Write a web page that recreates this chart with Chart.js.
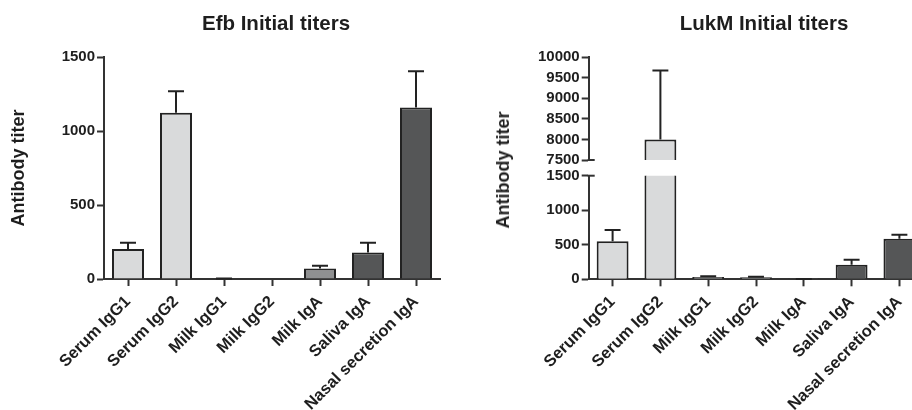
<!DOCTYPE html>
<html>
<head>
<meta charset="utf-8">
<script src="https://cdn.jsdelivr.net/npm/chart.js@4.4.1/dist/chart.umd.min.js"></script>
<style>
  html, body { margin: 0; padding: 0; background: #fff; }
  body { width: 912px; height: 410px; position: relative; overflow: hidden;
         font-family: "Liberation Sans", Arial, sans-serif; color: #1e1e1e; }
  canvas { position: absolute; }
  .title { position: absolute; width: 300px; text-align: center; font-weight: bold;
           font-size: 20.5px; line-height: 20.5px; white-space: nowrap; z-index: 2; }
  .ytitle { position: absolute; font-weight: bold; font-size: 18px; line-height: 20px;
            white-space: nowrap; z-index: 2; transform: translate(-50%, -50%) rotate(-90deg); }
</style>
</head>
<body>
<canvas id="efb" width="456" height="410" style="left:0;top:0"></canvas>
<canvas id="lukmTop" width="480" height="175" style="left:456px;top:0"></canvas>
<canvas id="lukmBottom" width="480" height="250" style="left:456px;top:160px"></canvas>
<div class="title" style="left:126px;top:13px">Efb Initial titers</div>
<div class="title" style="left:614px;top:13px">LukM Initial titers</div>
<div class="ytitle" style="left:503px;top:170px">Antibody titer</div>
<script>
// Sample groups shown on the x axis
const categories = ['Serum IgG1', 'Serum IgG2', 'Milk IgG1', 'Milk IgG2', 'Milk IgA', 'Saliva IgA', 'Nasal secretion IgA'];

// Efb initial titers: mean and upper error (SEM)
const efbMeans = [202, 1123, 3, 0, 71, 179, 1159];
const efbErrors = [43, 146, 1, 0, 19, 66, 245];

// LukM initial titers: mean and upper error (SEM)
const lukmMeans = [550, 8000, 35, 30, 3, 211, 588];
const lukmErrors = [164, 1670, 8, 8, 1, 73, 58];

// Fill per group: serum, milk, mucosal secretions
const barColors = ['#d9dadb', '#d9dadb', '#8f9091', '#8f9091', '#8f9091', '#555657', '#555657'];

// Y ranges; the LukM axis is broken between 1500 and 7500
const efbRange = [0, 1500];
const lukmLowRange = [0, 1500];
const lukmHighRange = [7500, 10000];
const tickStep = 500;

const INK = '#1e1e1e';
const AXIS = '#333333';
const FONT = '"Liberation Sans", Arial, sans-serif';

Chart.defaults.font.family = FONT;

// One-sided error bars (mean to mean + error, with a cap)
const errorBars = {
  id: 'errorBars',
  afterDatasetsDraw(chart, args, opts) {
    const errs = opts.errors;
    if (!errs) return;
    const ds = chart.data.datasets[0].data;
    const meta = chart.getDatasetMeta(0);
    const y = chart.scales.y;
    const ctx = chart.ctx;
    ctx.save();
    ctx.strokeStyle = '#222';
    ctx.lineWidth = 2;
    meta.data.forEach((bar, i) => {
      const v = ds[i];
      if (v == null || !errs[i]) return;
      if (v > y.max || v < y.min) return;
      const yBar = y.getPixelForValue(v);
      const yTop = y.getPixelForValue(v + errs[i]);
      const half = bar.width / 4;
      ctx.beginPath();
      ctx.moveTo(bar.x, yBar);
      ctx.lineTo(bar.x, yTop);
      ctx.moveTo(bar.x - half, yTop);
      ctx.lineTo(bar.x + half, yTop);
      ctx.stroke();
    });
    ctx.restore();
  }
};

// Short mark across the y axis where it is broken
const axisBreak = {
  id: 'axisBreak',
  afterDraw(chart, args, opts) {
    if (opts.value == null) return;
    const y = chart.scales.y;
    const py = y.getPixelForValue(opts.value);
    const x0 = chart.chartArea.left;
    const ctx = chart.ctx;
    ctx.save();
    ctx.strokeStyle = AXIS;
    ctx.lineWidth = 2;
    ctx.beginPath();
    ctx.moveTo(x0 - 1, py);
    ctx.lineTo(x0 + 6, py);
    ctx.stroke();
    ctx.restore();
  }
};

function yAxis(range, width, title) {
  return {
    min: range[0],
    max: range[1],
    ticks: {
      stepSize: tickStep, autoSkip: false, maxTicksLimit: 30, color: INK, padding: 2,
      font: { family: FONT, size: 15, weight: 'bold', lineHeight: 1 },
      callback: (v) => String(v)
    },
    grid: { drawOnChartArea: false, drawTicks: true, tickLength: 7, tickWidth: 2, tickColor: AXIS },
    border: { display: true, color: AXIS, width: 2 },
    title: title
      ? { display: true, text: title, color: INK, padding: { top: 8, bottom: 0 },
          font: { family: FONT, size: 18, weight: 'bold' } }
      : { display: false },
    afterFit(scale) { scale.width = width; }
  };
}

function xAxis(show, height) {
  return {
    display: show,
    ticks: { color: INK, autoSkip: false, minRotation: 45, maxRotation: 45, padding: 6,
             font: { family: FONT, size: 16.5, weight: 'bold' } },
    grid: { drawOnChartArea: false, drawTicks: true, offset: false, tickLength: 7, tickWidth: 2, tickColor: AXIS },
    border: { display: true, color: AXIS, width: 2 },
    afterFit(scale) { scale.height = height; }
  };
}

function barDataset(values) {
  return {
    data: values,
    backgroundColor: barColors,
    borderColor: '#222',
    borderWidth: 2,
    categoryPercentage: 1,
    barPercentage: 0.667,
    clip: 0
  };
}

function makeChart(id, values, errors, yCfg, xCfg, padding, breakValue) {
  return new Chart(document.getElementById(id), {
    type: 'bar',
    data: { labels: categories, datasets: [barDataset(values)] },
    options: {
      responsive: false,
      animation: false,
      devicePixelRatio: 1,
      layout: { padding },
      scales: { x: xCfg, y: yCfg },
      plugins: {
        legend: { display: false },
        tooltip: { enabled: false },
        title: { display: false },
        errorBars: { errors },
        axisBreak: { value: breakValue }
      }
    },
    plugins: [errorBars, axisBreak]
  });
}

// Efb panel
makeChart('efb', efbMeans, efbErrors,
  yAxis(efbRange, 104, 'Antibody titer'),
  xAxis(true, 131),
  { top: 57, right: 16, left: 0, bottom: 0 }, null);

// LukM panel, upper segment: only values above the break
const lukmHigh = lukmMeans.map(v => (v >= lukmHighRange[0] ? v : null));
makeChart('lukmTop', lukmHigh, lukmErrors,
  yAxis(lukmHighRange, 132.7, null),
  xAxis(false, 0),
  { top: 57, right: 12.7, left: 0, bottom: 15 }, lukmHighRange[0]);

// LukM panel, lower segment with the category axis
makeChart('lukmBottom', lukmMeans, lukmErrors,
  yAxis(lukmLowRange, 132.7, null),
  xAxis(true, 130.7),
  { top: 15.7, right: 12.7, left: 0, bottom: 0 }, lukmLowRange[1]);
</script>
</body>
</html>
